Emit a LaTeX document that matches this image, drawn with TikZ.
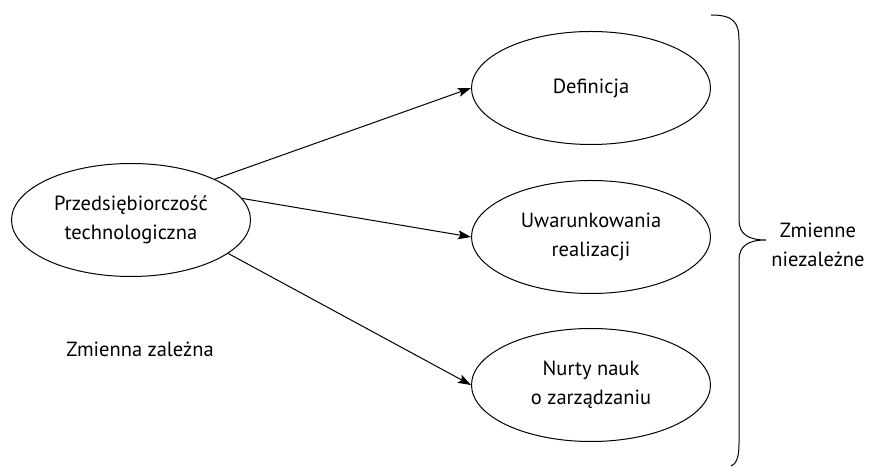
\documentclass[tikz,border=0pt]{standalone}
\usepackage{fontspec}
\setmainfont{PT Sans}
\usetikzlibrary{shapes.geometric,arrows.meta}
\begin{document}
\begin{tikzpicture}[x=1bp,y=-1bp,
  every node/.style={font=\fontsize{20.5bp}{29bp}\selectfont},
  oval/.style={draw, line width=1bp, ellipse, minimum width=239bp, minimum height=113bp, inner sep=0pt, align=center},
  conn/.style={line width=1bp, -{Stealth[length=13bp,width=9bp,inset=2.5bp]}},
  brace/.style={line width=1bp}
]
\useasboundingbox (0,0) rectangle (886,468);
\node[oval] (L) at (131,220) {Przedsiębiorczość\\technologiczna};
\node[oval] (D) at (591,88) {Definicja};
\node[oval] (U) at (591,237) {Uwarunkowania\\realizacji};
\node[oval] (N) at (591,385) {Nurty nauk\\o zarządzaniu};
\node (ZZ) at (140,349) {Zmienna zależna};
\node[align=center] (ZN) at (818,245) {Zmienne\\niezależne};
\draw[conn] (L.26) -- (D.west);
\draw[conn] (L.11) -- (U.west);
\draw[conn] (L.-19) -- (N.west);
\coordinate (bt) at (711,15);
\coordinate (tip) at (766,240);
\coordinate (bb) at (731,466);
\draw[brace] (bt) .. controls (733,15) and (739,22) .. (739,40) -- (739,220)
  .. controls (739,234) and (748,240) .. (tip)
  .. controls (748,240) and (739,246) .. (739,260) -- (739,444)
  .. controls (739,458) and (736,464) .. (bb);
\end{tikzpicture}
\end{document}
